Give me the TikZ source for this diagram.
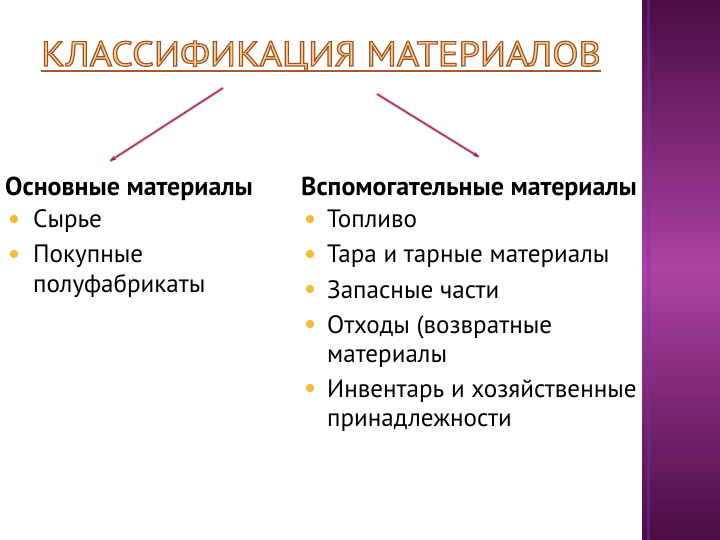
\documentclass[tikz,border=0pt]{standalone}
\usepackage{fontspec}
\setmainfont{PT Sans}
\usetikzlibrary{arrows.meta}

\definecolor{arrowred}{HTML}{8E2848}
\definecolor{arrowglow}{HTML}{F4A6BE}
\definecolor{dotyellow}{HTML}{F2BE3A}
\definecolor{barlight}{HTML}{AC42A3}
\definecolor{bardark}{HTML}{4A0C43}
\definecolor{titlefill}{HTML}{F8CF96}
\definecolor{titleline}{HTML}{A85A26}

\newcommand{\OutlineText}[1]{\special{pdf:literal direct 2 Tr 1.1 w 0.62 0.32 0.12 RG}#1\special{pdf:literal direct 0 Tr}}

\begin{document}
\begin{tikzpicture}[x=1bp,y=-1bp,
    head/.style={anchor=base west,inner sep=0pt,font=\fontsize{26}{29}\selectfont\bfseries},
    item/.style={anchor=base west,inner sep=0pt,font=\fontsize{25.2}{29}\selectfont},
    bullet/.style={circle,fill=dotyellow,inner sep=0pt,minimum size=8.5bp},
    link/.style={arrowred,line width=1.1bp,-{Stealth[length=6bp,width=4.5bp]},
      preaction={draw=arrowglow,line width=3bp,-}}]
    \useasboundingbox (0,0) rectangle (720,540);
    \fill[white] (0,0) rectangle (720,540);
    % purple band on the right
    \shade[top color=bardark,bottom color=barlight] (642,0) rectangle (720,270);
    \shade[top color=barlight,bottom color=bardark] (642,270) rectangle (720,540);
    \draw[barlight!70!blue,line width=3bp,opacity=0.4] (648,0) -- (648,540);
    %
    \node[anchor=base,inner sep=0pt,font=\fontsize{35}{35}\selectfont,xscale=1.1] (title) at (321,66)
      {\color{titlefill}\OutlineText{КЛАССИФИКАЦИЯ МАТЕРИАЛОВ}};
    \draw[titleline,line width=2.2bp] ([yshift=-5bp]title.base west) -- ([yshift=-5bp]title.base east);
    %
    \coordinate (la) at (223,88);  \coordinate (lb) at (110,161);
    \coordinate (ra) at (377,94);  \coordinate (rb) at (479,157);
    \draw[link] (la) -- (lb);
    \draw[link] (ra) -- (rb);
    %
    \node[head] (osn) at (5,196) {Основные материалы};
    \node[bullet] (b1) at (14,219) {}; \node[item] (l1) at (33,228) {Сырье};
    \node[bullet] (b2) at (14,254) {}; \node[item] (l2) at (33,263) {Покупные};
    \node[item] (l2b) at (33,292) {полуфабрикаты};
    %
    \node[head] (vsp) at (301,196) {Вспомогательные материалы};
    \node[bullet] (c1) at (310,219) {}; \node[item] (r1) at (327,228) {Топливо};
    \node[bullet] (c2) at (310,254) {}; \node[item] (r2) at (327,263) {Тара и тарные материалы};
    \node[bullet] (c3) at (310,289) {}; \node[item] (r3) at (327,298) {Запасные части};
    \node[bullet] (c4) at (310,324) {}; \node[item] (r4) at (327,333) {Отходы (возвратные};
    \node[item] (r4b) at (327,362) {материалы};
    \node[bullet] (c5) at (310,388) {}; \node[item] (r5) at (327,397) {Инвентарь и хозяйственные};
    \node[item] (r5b) at (327,426) {принадлежности};
\end{tikzpicture}
\end{document}
